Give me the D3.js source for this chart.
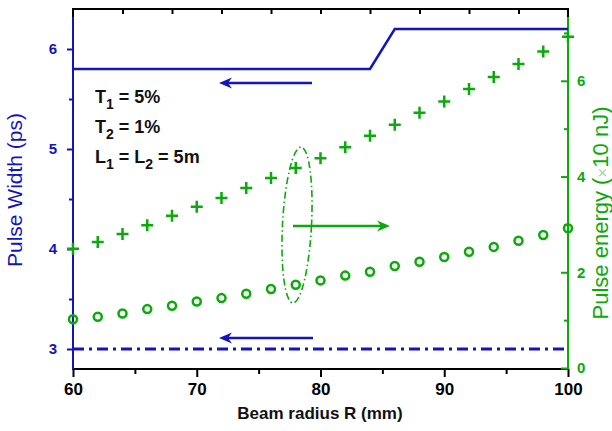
<!DOCTYPE html>
<html>
<head>
<meta charset="utf-8">
<script src="https://cdn.jsdelivr.net/npm/d3@7"></script>
<style>
  body { margin: 0; background: #fff; }
  svg { display: block; font-family: "Liberation Sans", Arial, sans-serif; }
</style>
</head>
<body>
<svg width="612" height="431"></svg>
<script>
// beam radius R (mm) for pulse-width lines
var widthR = [60, 84, 86, 100];
var widthSolid = [5.8, 5.8, 6.2, 6.2];
var dashR = [60, 100];
var widthDash = [3, 3];

// energy markers (x10 nJ)
var energyR = [60, 62, 64, 66, 68, 70, 72, 74, 76, 78, 80, 82, 84, 86, 88, 90, 92, 94, 96, 98, 100];
var energyCross = [2.49, 2.63, 2.80, 2.98, 3.18, 3.37, 3.55, 3.76, 3.97, 4.18, 4.38, 4.61, 4.85, 5.08, 5.33, 5.57, 5.83, 6.08, 6.35, 6.61, 6.92];
var energyCircle = [1.02, 1.07, 1.14, 1.23, 1.30, 1.39, 1.46, 1.55, 1.65, 1.74, 1.83, 1.93, 2.01, 2.13, 2.22, 2.32, 2.43, 2.53, 2.66, 2.78, 2.92];

var xTicks = [60, 70, 80, 90, 100];
var xMinor = [65, 75, 85, 95];
var xTop = [64, 68, 72, 76, 80, 84, 88, 92, 96];
var leftTicks = [3, 4, 5, 6];
var leftMinor = [3.5, 4.5, 5.5];
var rightTicks = [0, 2, 4, 6];
var rightMinor = [1, 3, 5, 7];

var blue = "#1414bf";
var green = "#0aaa0a";

var svg = d3.select("svg");
var pL = 73, pR = 568, pT = 9, pB = 369;

var x = d3.scaleLinear().domain([60, 100]).range([pL, pR]);
var yL = d3.scaleLinear().domain([2.8, 6.4]).range([pB, pT]);
var yR = d3.scaleLinear().domain([0, 7.5]).range([368, pT]);

// frame
svg.append("rect")
    .attr("x", pL).attr("y", pT)
    .attr("width", pR - pL).attr("height", pB - pT)
    .attr("fill", "none").attr("stroke", "#000").attr("stroke-width", 2);

function styleAxis(g, color, size) {
    g.select(".domain").remove();
    g.selectAll("line").attr("stroke", color).attr("stroke-width", 2);
    g.selectAll("text").attr("fill", color).attr("font-weight", "bold")
        .attr("font-size", size).attr("font-family", "Liberation Sans, Arial, sans-serif");
}

// bottom axis
svg.append("g").attr("transform", "translate(0," + pB + ")")
    .call(d3.axisBottom(x).tickValues(xTicks).tickSize(8).tickPadding(6).tickFormat(d3.format("d")))
    .call(styleAxis, "#000", 17);
svg.append("g").attr("transform", "translate(0," + pB + ")")
    .call(d3.axisBottom(x).tickValues(xMinor).tickSize(5).tickFormat(""))
    .call(styleAxis, "#000", 17);
// top axis
svg.append("g").attr("transform", "translate(0," + pT + ")")
    .call(d3.axisTop(x).tickValues(xTop).tickSize(-5).tickFormat(""))
    .call(styleAxis, "#000", 17);

// left axis
svg.append("line").attr("x1", pL).attr("x2", pL).attr("y1", 17).attr("y2", pB)
    .attr("stroke", blue).attr("stroke-width", 2);
svg.append("g").attr("transform", "translate(" + pL + ",0)")
    .call(d3.axisLeft(yL).tickValues(leftTicks).tickSize(6).tickPadding(10).tickFormat(d3.format("d")))
    .call(styleAxis, blue, 15);
svg.append("g").attr("transform", "translate(" + pL + ",0)")
    .call(d3.axisLeft(yL).tickValues(leftMinor).tickSize(4).tickFormat(""))
    .call(styleAxis, blue, 15);

// right axis
svg.append("line").attr("x1", pR).attr("x2", pR).attr("y1", 17).attr("y2", pB)
    .attr("stroke", green).attr("stroke-width", 2);
svg.append("g").attr("transform", "translate(" + pR + ",0)")
    .call(d3.axisRight(yR).tickValues(rightTicks).tickSize(-7).tickPadding(9).tickFormat(d3.format("d")))
    .call(styleAxis, green, 15);
svg.append("g").attr("transform", "translate(" + pR + ",0)")
    .call(d3.axisRight(yR).tickValues(rightMinor).tickSize(-4).tickFormat(""))
    .call(styleAxis, green, 15);

// pulse width lines
var line = d3.line().x(function (d) { return x(d[0]); }).y(function (d) { return yL(d[1]); });
svg.append("path")
    .datum(d3.zip(widthR, widthSolid))
    .attr("d", line)
    .attr("fill", "none").attr("stroke", blue).attr("stroke-width", 2.5);
svg.append("path")
    .datum(d3.zip(dashR, widthDash))
    .attr("d", line)
    .attr("fill", "none").attr("stroke", blue).attr("stroke-width", 3)
    .attr("stroke-dasharray", "11,5,3,5");

// circles
svg.append("g").selectAll("circle")
    .data(d3.zip(energyR, energyCircle))
    .enter().append("circle")
    .attr("cx", function (d) { return x(d[0]); })
    .attr("cy", function (d) { return yR(d[1]); })
    .attr("r", 4)
    .attr("fill", "none").attr("stroke", green).attr("stroke-width", 2.5);

// crosses
svg.append("g").selectAll("path")
    .data(d3.zip(energyR, energyCross))
    .enter().append("path")
    .attr("d", function (d) {
        var cx = x(d[0]), cy = yR(d[1]), s = 6;
        return "M" + (cx - s) + "," + cy + "H" + (cx + s) + "M" + cx + "," + (cy - s) + "V" + (cy + s);
    })
    .attr("stroke", green).attr("stroke-width", 2.5).attr("fill", "none");

// arrows
function arrow(x1, x2, y, color) {
    var dir = x2 > x1 ? 1 : -1;
    svg.append("line")
        .attr("x1", x1).attr("x2", x2 - dir * 8).attr("y1", y).attr("y2", y)
        .attr("stroke", color).attr("stroke-width", 2.5);
    svg.append("path")
        .attr("d", "M" + x2 + "," + y +
            "L" + (x2 - dir * 13) + "," + (y - 5.5) +
            "L" + (x2 - dir * 9) + "," + y +
            "L" + (x2 - dir * 13) + "," + (y + 5.5) + "Z")
        .attr("fill", color);
}
arrow(312, 219, 83, blue);
arrow(313, 219, 338, blue);
arrow(293, 390, 226, green);

// ellipse
svg.append("ellipse")
    .attr("cx", 297).attr("cy", 225).attr("rx", 14.5).attr("ry", 78)
    .attr("transform", "rotate(3,297,225)")
    .attr("fill", "none").attr("stroke", green).attr("stroke-width", 1.6)
    .attr("stroke-dasharray", "7,3,1.5,3");

// parameter notes
var notes = [["T", "1", " = 5%"], ["T", "2", " = 1%"], ["L", "1", " = L", "2", " = 5m"]];
notes.forEach(function (n, i) {
    var t = svg.append("text")
        .attr("x", 95).attr("y", 103 + i * 30)
        .attr("font-size", 18).attr("font-weight", "bold").attr("fill", "#111");
    n.forEach(function (s, j) {
        var sp = t.append("tspan").text(s);
        if (j % 2 === 1) sp.attr("font-size", 14).attr("dy", 6);
        else if (j > 0) sp.attr("dy", -6);
    });
});

// axis titles
svg.append("text")
    .attr("x", 320).attr("y", 419)
    .attr("text-anchor", "middle")
    .attr("font-size", 17).attr("font-weight", "bold").attr("fill", "#111")
    .text("Beam radius R (mm)");

svg.append("text")
    .attr("transform", "translate(22,190) rotate(-90)")
    .attr("text-anchor", "middle")
    .attr("font-size", 21).attr("fill", blue)
    .text("Pulse Width (ps)");

var rt = svg.append("text")
    .attr("transform", "translate(608,213) rotate(-90)")
    .attr("text-anchor", "middle")
    .attr("font-size", 22).attr("fill", green);
rt.append("tspan").text("Pulse energy (");
rt.append("tspan").text("\u00d7").attr("fill", "#9ed89e").attr("font-size", 17);
rt.append("tspan").text("10 nJ)");
</script>
</body>
</html>
